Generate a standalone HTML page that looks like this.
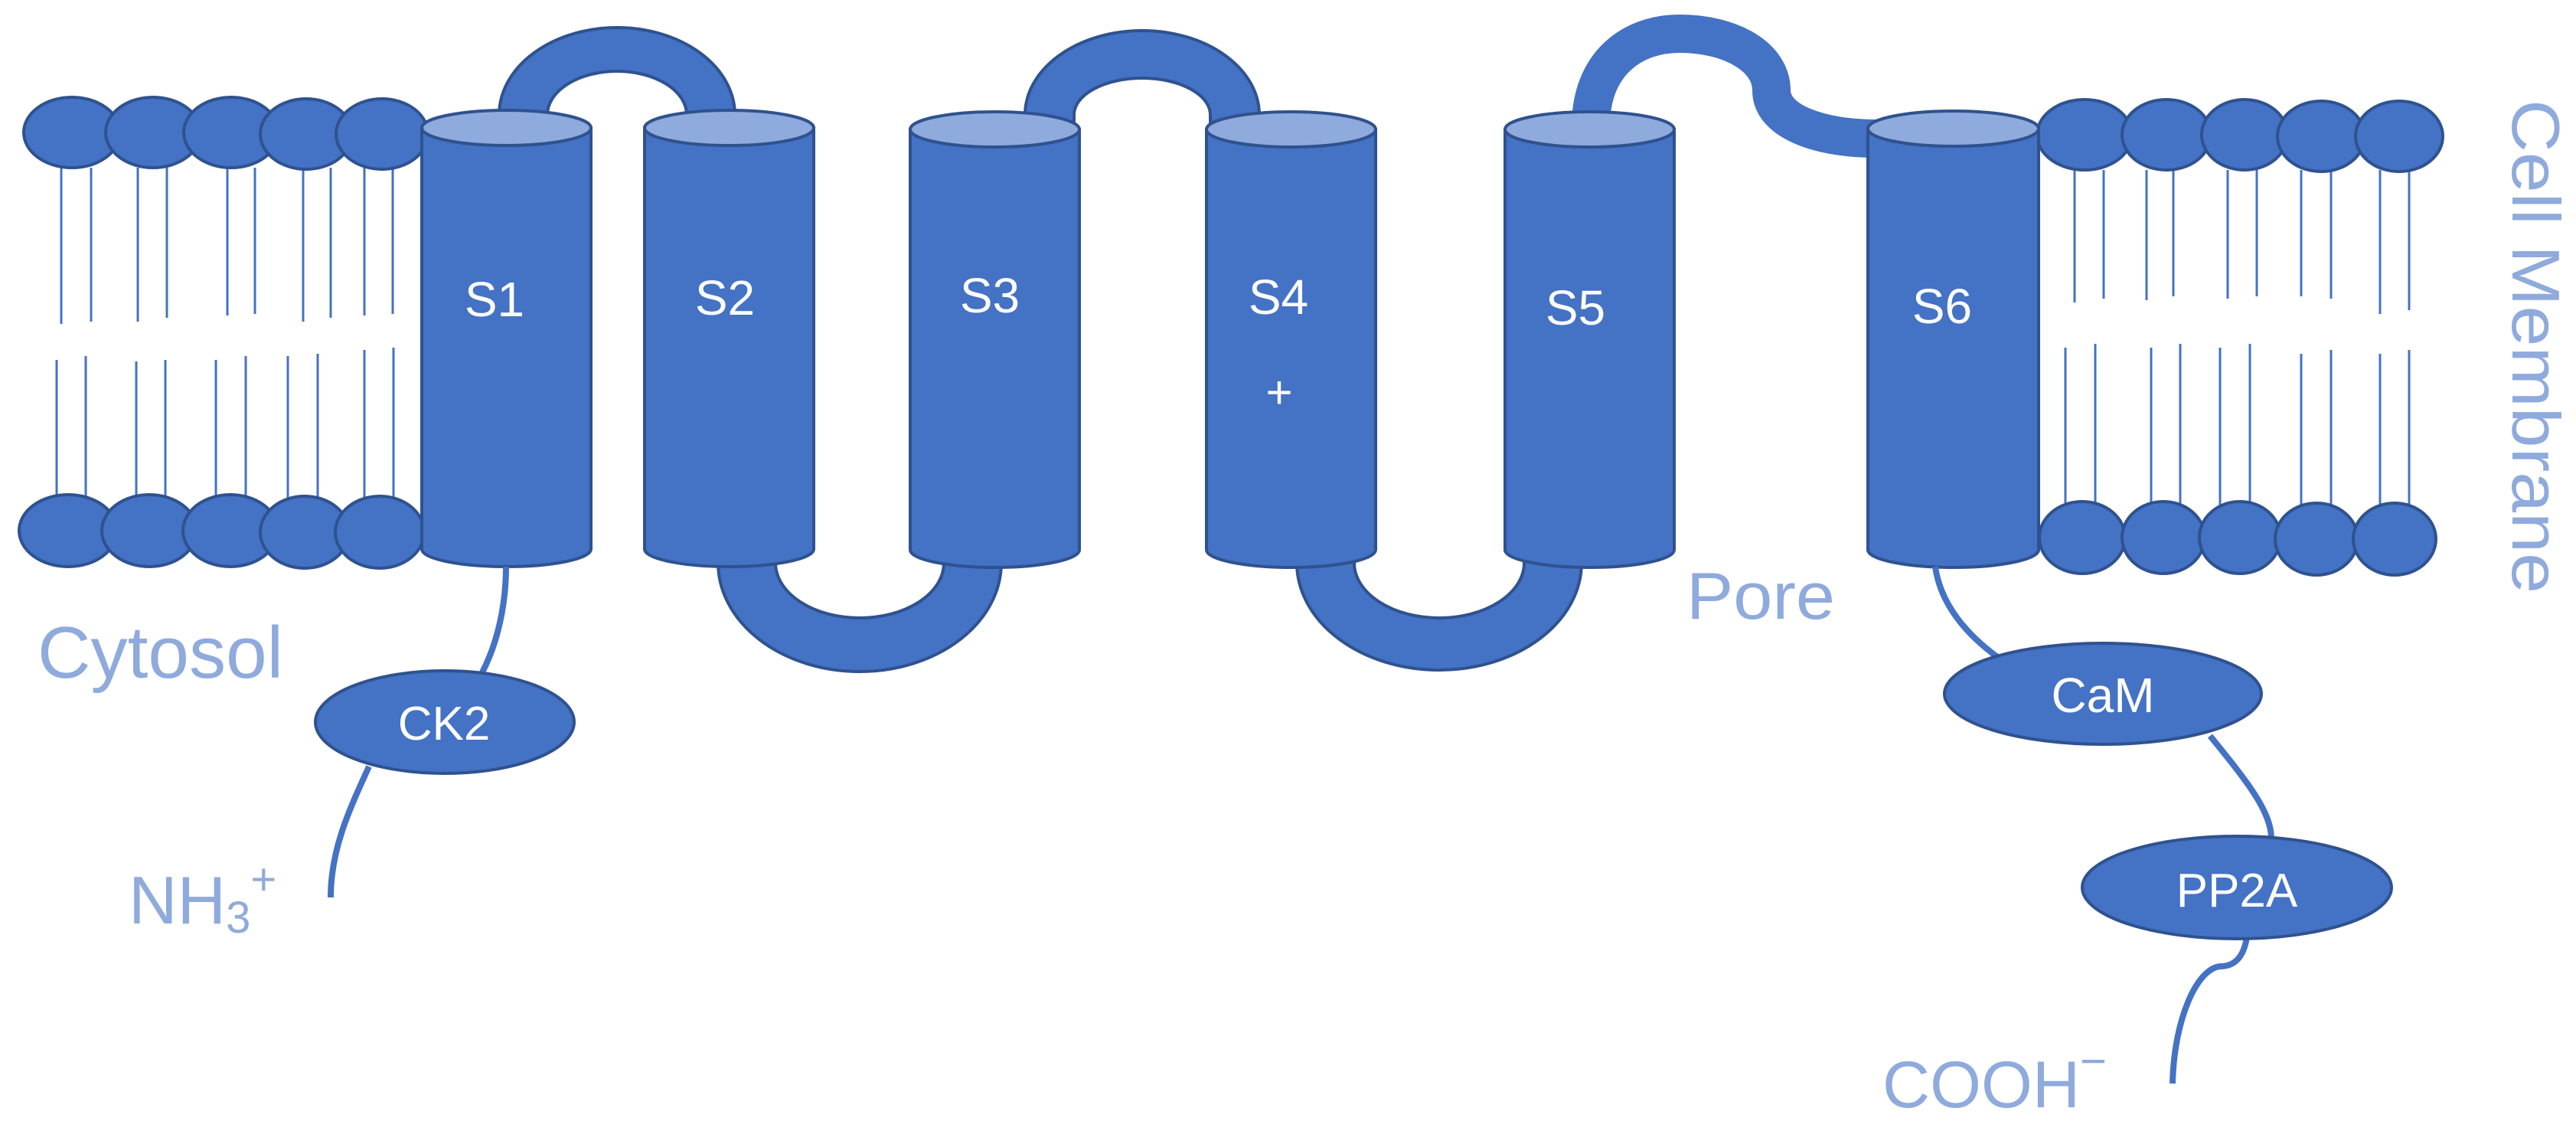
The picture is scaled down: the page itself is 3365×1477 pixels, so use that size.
<!DOCTYPE html>
<html><head><meta charset="utf-8"><style>
html,body{margin:0;padding:0;background:#fff;}
svg{display:block;}
text{font-family:"Liberation Sans",sans-serif;}
</style></head><body>
<svg width="3365" height="1477" viewBox="0 0 3365 1477" xmlns="http://www.w3.org/2000/svg">
<g stroke="#4472C4" stroke-width="3">
<line x1="80" y1="219" x2="80" y2="423"/><line x1="119" y1="219" x2="119" y2="420"/>
<line x1="180" y1="219" x2="180" y2="420"/><line x1="218" y1="219" x2="218" y2="415"/>
<line x1="297" y1="219" x2="297" y2="412"/><line x1="333" y1="219" x2="333" y2="410"/>
<line x1="396" y1="219" x2="396" y2="420"/><line x1="432" y1="219" x2="432" y2="415"/>
<line x1="476" y1="219" x2="476" y2="412"/><line x1="513" y1="219" x2="513" y2="410"/>
<line x1="74" y1="470" x2="74" y2="650"/><line x1="112" y1="465" x2="112" y2="650"/>
<line x1="178" y1="472" x2="178" y2="650"/><line x1="216" y1="470" x2="216" y2="650"/>
<line x1="282" y1="470" x2="282" y2="650"/><line x1="321" y1="465" x2="321" y2="650"/>
<line x1="376" y1="465" x2="376" y2="650"/><line x1="415" y1="462" x2="415" y2="650"/>
<line x1="476" y1="457" x2="476" y2="650"/><line x1="514" y1="454" x2="514" y2="650"/>
<line x1="2710" y1="222" x2="2710" y2="395"/><line x1="2748" y1="222" x2="2748" y2="390"/>
<line x1="2804" y1="222" x2="2804" y2="392"/><line x1="2839" y1="222" x2="2839" y2="387"/>
<line x1="2910" y1="222" x2="2910" y2="390"/><line x1="2948" y1="222" x2="2948" y2="387"/>
<line x1="3006" y1="222" x2="3006" y2="387"/><line x1="3045" y1="222" x2="3045" y2="390"/>
<line x1="3109" y1="222" x2="3109" y2="410"/><line x1="3147" y1="222" x2="3147" y2="405"/>
<line x1="2698" y1="454" x2="2698" y2="660"/><line x1="2737" y1="449" x2="2737" y2="660"/>
<line x1="2810" y1="454" x2="2810" y2="660"/><line x1="2848" y1="449" x2="2848" y2="660"/>
<line x1="2900" y1="454" x2="2900" y2="660"/><line x1="2939" y1="449" x2="2939" y2="660"/>
<line x1="3006" y1="462" x2="3006" y2="660"/><line x1="3045" y1="457" x2="3045" y2="660"/>
<line x1="3109" y1="462" x2="3109" y2="660"/><line x1="3147" y1="457" x2="3147" y2="660"/>
</g>
<g fill="#4472C4" stroke="#2F528F" stroke-width="4">
<ellipse cx="94" cy="173" rx="63" ry="46"/><ellipse cx="200" cy="173" rx="62" ry="46"/>
<ellipse cx="302" cy="173" rx="62" ry="46"/><ellipse cx="400" cy="175" rx="60" ry="46"/>
<ellipse cx="499" cy="175" rx="60" ry="46"/>
<ellipse cx="89" cy="693" rx="64" ry="47"/><ellipse cx="195" cy="693" rx="62" ry="47"/>
<ellipse cx="301" cy="693" rx="62" ry="47"/><ellipse cx="398" cy="695" rx="58" ry="47"/>
<ellipse cx="496" cy="695" rx="58" ry="47"/>
<ellipse cx="2723" cy="176" rx="62" ry="46"/><ellipse cx="2830" cy="176" rx="58" ry="46"/>
<ellipse cx="2932" cy="176" rx="56" ry="46"/><ellipse cx="3032" cy="178" rx="57" ry="46"/>
<ellipse cx="3134" cy="178" rx="57" ry="46"/>
<ellipse cx="2720" cy="702" rx="56" ry="47"/><ellipse cx="2826" cy="702" rx="54" ry="47"/>
<ellipse cx="2926" cy="702" rx="53" ry="47"/><ellipse cx="3026" cy="704" rx="54" ry="47"/>
<ellipse cx="3128" cy="704" rx="54" ry="47"/>
<path d="M652,170 L652,150 A154,114 0 0 1 960,150 L960,170 L897,170 L897,150 A91,57 0 0 0 715,150 L715,170 Z"/>
<path d="M1339,160 L1339,150 A153,110 0 0 1 1645,150 L1645,160 L1581,160 L1581,150 A89,48 0 0 0 1403,150 L1403,160 Z"/>
<path d="M938,700 L938,735 A185,142 0 0 0 1308,735 L1308,700 L1233,700 L1233,735 A110,72 0 0 1 1013,735 L1013,700 Z"/>
<path d="M1694,700 L1694,735 A186,140 0 0 0 2066,735 L2066,700 L1991,700 L1991,735 A111,72 0 0 1 1769,735 L1769,700 Z"/>
</g>
<path d="M2078,165 C2078,85 2130,44 2194,44 C2262,44 2314,75 2314,118 C2314,160 2380,181 2450,181" fill="none" stroke="#4472C4" stroke-width="50"/>
<g stroke="#2F528F" stroke-width="4">
<path d="M551,167 L551,717 A110.5,23 0 0 0 772,717 L772,167 Z" fill="#4472C4"/><ellipse cx="661.5" cy="167" rx="110.5" ry="23" fill="#8FAADC"/>
<path d="M842,167 L842,717 A110.5,23 0 0 0 1063,717 L1063,167 Z" fill="#4472C4"/><ellipse cx="952.5" cy="167" rx="110.5" ry="23" fill="#8FAADC"/>
<path d="M1189,169 L1189,718 A110.5,23 0 0 0 1410,718 L1410,169 Z" fill="#4472C4"/><ellipse cx="1299.5" cy="169" rx="110.5" ry="23" fill="#8FAADC"/>
<path d="M1576,169 L1576,718 A110.5,23 0 0 0 1797,718 L1797,169 Z" fill="#4472C4"/><ellipse cx="1686.5" cy="169" rx="110.5" ry="23" fill="#8FAADC"/>
<path d="M1966,169 L1966,718 A110.5,23 0 0 0 2187,718 L2187,169 Z" fill="#4472C4"/><ellipse cx="2076.5" cy="169" rx="110.5" ry="23" fill="#8FAADC"/>
<path d="M2440,168 L2440,718 A111.5,23 0 0 0 2663,718 L2663,168 Z" fill="#4472C4"/><ellipse cx="2551.5" cy="168" rx="111.5" ry="23" fill="#8FAADC"/>
</g>
<g fill="none" stroke="#4472C4" stroke-width="8">
<path d="M661,740 C661,790 650,840 629,880"/>
<path d="M482,1001 C455,1060 432,1110 432,1172"/>
<path d="M2528,740 C2535,790 2570,830 2612,860"/>
<path d="M2887,961 C2935,1020 2967,1060 2967,1095"/>
<path d="M2935,1224 C2930,1255 2915,1262 2900,1262 C2870,1265 2840,1330 2838,1415"/>
</g>
<g fill="#4472C4" stroke="#2F528F" stroke-width="4">
<ellipse cx="581" cy="943" rx="169" ry="67"/>
<ellipse cx="2747" cy="906" rx="207" ry="66"/>
<ellipse cx="2922" cy="1159" rx="202" ry="67"/>
</g>
<g fill="#fff" font-size="64" text-anchor="middle">
<text x="646" y="413">S1</text>
<text x="947" y="411">S2</text>
<text x="1293" y="408">S3</text>
<text x="1670" y="410">S4</text>
<text x="1671" y="533" font-size="60">+</text>
<text x="2058" y="424">S5</text>
<text x="2537" y="422">S6</text>
<text x="580" y="966" font-size="62">CK2</text>
<text x="2747" y="930" font-size="64">CaM</text>
<text x="2922" y="1184" font-size="62">PP2A</text>
</g>
<g fill="#8FAADC" font-size="88">
<text x="49" y="885" font-size="96" textLength="321" lengthAdjust="spacingAndGlyphs">Cytosol</text>
<text x="2203" y="808" font-size="86" textLength="194" lengthAdjust="spacingAndGlyphs">Pore</text>
<text x="168" y="1206">NH<tspan font-size="58" dy="12">3</tspan><tspan font-size="58" dy="-50">+</tspan></text>
<text x="2459" y="1446" font-size="86">COOH<tspan font-size="60" dy="-40">−</tspan></text>
<text transform="translate(3282,130) rotate(90)" font-size="88" textLength="645" lengthAdjust="spacingAndGlyphs">Cell Membrane</text>
</g>
</svg>
</body></html>
